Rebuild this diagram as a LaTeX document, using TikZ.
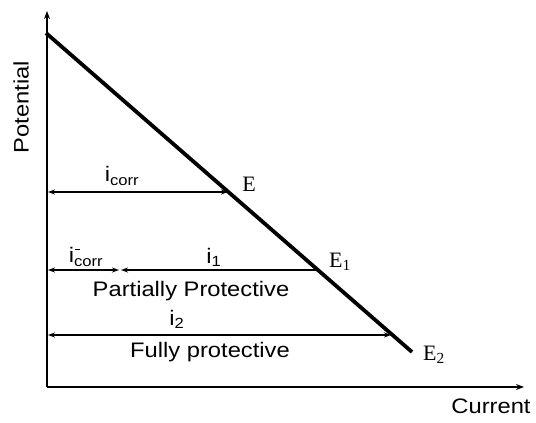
\documentclass[tikz,border=0pt]{standalone}
\usepackage{fontspec}
\setmainfont{Liberation Sans}
\newfontfamily\serifE{Liberation Serif}
\usetikzlibrary{arrows.meta}
\newcommand{\wtxt}[1]{\scalebox{1.13}[1]{#1}}
\begin{document}
\begin{tikzpicture}[x=1pt,y=-1pt,
  axis/.style={line width=1.5pt,-{Stealth[length=8pt,width=6pt]}},
  curve/.style={line width=3.8pt},
  dim/.style={line width=1.4pt,{Stealth[length=7pt,width=5pt]}-{Stealth[length=7pt,width=5pt]}},
  ldim/.style={line width=1.4pt,{Stealth[length=7pt,width=5pt]}-},
  lbl/.style={font=\fontsize{21}{23}\selectfont,inner sep=0pt},
  elbl/.style={font=\serifE\fontsize{22}{24}\selectfont,inner sep=0pt}]
\useasboundingbox (0,0) rectangle (536,423);
% axes
\coordinate (O) at (47,387);
\coordinate (ytop) at (47,11);
\coordinate (xend) at (524,387);
\draw[axis] (O) -- (ytop);
\draw[axis] (O) -- (xend);
% polarization line
\coordinate (L0) at (46,33);
\coordinate (L1) at (412,352);
\draw[curve] (L0) -- (L1);
% points on line
\coordinate (pE) at (228,192);
\coordinate (pE1) at (318,270);
\coordinate (pE2) at (391,335);
\coordinate (aE) at (48,192);
\coordinate (aE1) at (48,270);
\coordinate (mE1a) at (119,270);
\coordinate (mE1b) at (121,270);
\coordinate (aE2) at (48,335);
% dimension arrows
\draw[dim] (aE) -- (pE);
\draw[dim] (aE1) -- (mE1a);
\draw[ldim] (mE1b) -- (pE1);
\draw[dim] (aE2) -- (pE2);
% labels
\node[lbl,rotate=90] (pot) at (21,107) {\wtxt{Potential}};
\node[lbl] (cur) at (491,406) {\wtxt{Current}};
\node[lbl] (icorr) at (122,176) {\wtxt{i\textsubscript{corr}}};
\node[lbl] (icorrm) at (86,257) {\wtxt{i\rlap{\kern1pt\raisebox{13pt}{\rule{4pt}{1pt}}}\textsubscript{corr}}};
\node[lbl] (i1) at (214,257) {\wtxt{i\textsubscript{1}}};
\node[lbl] (pp) at (191,291) {\wtxt{Partially Protective}};
\node[lbl] (i2) at (177,319) {\wtxt{i\textsubscript{2}}};
\node[lbl] (fp) at (210,352) {\wtxt{Fully protective}};
\node[elbl] (E) at (249,184) {E};
\node[elbl] (E1) at (340,262) {E\textsubscript{1}};
\node[elbl] (E2) at (434,355) {E\textsubscript{2}};
\end{tikzpicture}
\end{document}
